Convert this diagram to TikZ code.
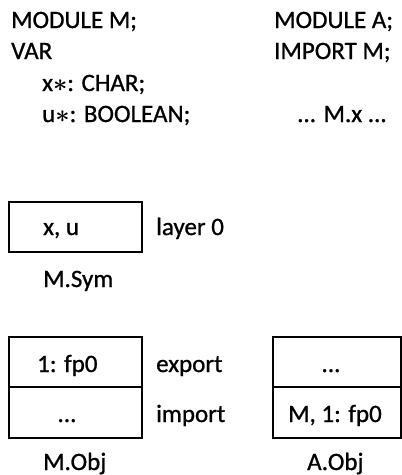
\documentclass[tikz,border=0pt]{standalone}
\usepackage{fontspec}
\setmainfont{Carlito}[FakeBold=0.9]
\newcommand{\xstar}{{\boldmath$\ast$}}
\begin{document}
\begin{tikzpicture}[x=1pt,y=-1pt,
  txt/.style={inner sep=0pt,font=\fontsize{25}{29}\selectfont,anchor=base west},
  ctxt/.style={inner sep=0pt,font=\fontsize{25}{29}\selectfont,anchor=base},
  cell/.style={draw,line width=1.2pt,inner sep=0pt}]
\useasboundingbox (0,0) rectangle (402,475);
% source texts
\node[txt] (m1) at (11,28) {MODULE M;};
\node[txt] (m2) at (11,59) {VAR};
\node[txt] (m3) at (42,91) {x\xstar: CHAR;};
\node[txt] (m4) at (42,122) {u\xstar: BOOLEAN;};
\node[txt] (a1) at (274,28) {MODULE A;};
\node[txt] (a2) at (274,59) {IMPORT M;};
\node[txt] (a3) at (297,122) {... M.x ...};
% M.Sym
\draw[cell] (9,202) rectangle (142,252);
\node[txt] (symtxt) at (43,235) {x, u};
\node[txt] (layer) at (156,235) {layer 0};
\node[txt] (symlbl) at (43,287) {M.Sym};
% M.Obj
\draw[cell] (9,337) rectangle (142,387);
\draw[cell] (9,387) rectangle (142,438);
\node[txt] (mexp) at (37,372) {1: fp0};
\node[ctxt] (mimp) at (67,422) {...};
\node[txt] (export) at (156,372) {export};
\node[txt] (import) at (156,422) {import};
\node[txt] (mobj) at (43,470) {M.Obj};
% A.Obj
\draw[cell] (273,337) rectangle (401,387);
\draw[cell] (273,387) rectangle (401,438);
\node[ctxt] (aexp) at (331,372) {...};
\node[txt] (aimp) at (288,422) {M, 1: fp0};
\node[txt] (aobj) at (307,470) {A.Obj};
\end{tikzpicture}
\end{document}
